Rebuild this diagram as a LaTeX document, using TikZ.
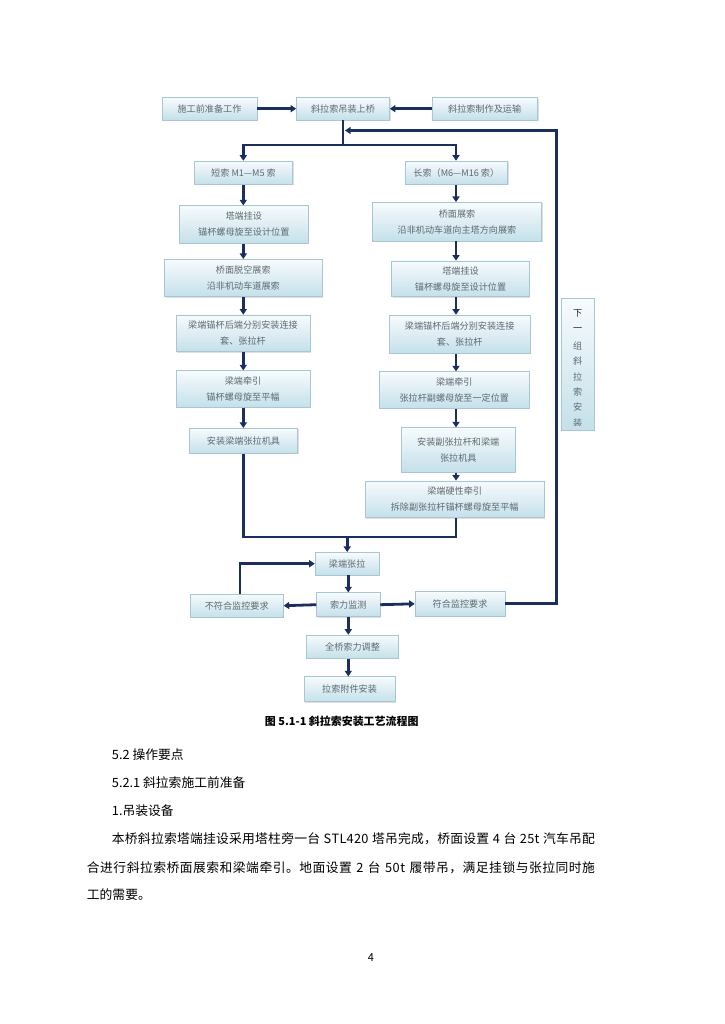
\documentclass[tikz,border=0pt]{standalone}
\usepackage{fontspec}
\setmainfont{Noto Sans CJK SC}
\usetikzlibrary{arrows.meta,shadows,calc}
\newdimen\upx
\upx=0.8218pt
\def\spreadend{}
\def\spread#1{\spreadi#1\spreadend}
\def\spreadi#1{\ifx#1\spreadend\else#1\hskip0pt plus 1pt\relax\expandafter\spreadi\fi}
\definecolor{boxtop}{HTML}{F7FBFD}
\definecolor{boxbot}{HTML}{C4E0EA}
\definecolor{boxborder}{HTML}{A9C6D3}
\definecolor{boxtext}{HTML}{5E6A72}
\definecolor{navy}{HTML}{1B2F5E}
\tikzset{
  box/.style={draw=boxborder, line width=0.5pt, top color=boxtop, bottom color=boxbot,
    text=boxtext, font=\fontsize{7.5}{13.1}\selectfont, align=center, inner sep=0pt,
    drop shadow={shadow xshift=0.9pt, shadow yshift=-0.9pt, opacity=0.25, fill=gray}},
  conn/.style={draw=navy, line width=2.3pt, line join=miter},
  arr/.style={conn, -{Triangle[length=4.6pt,width=5.8pt]}},
  body/.style={font=\fontsize{10.5}{12}\selectfont, anchor=west, inner sep=0pt},
  vchar/.style={text=boxtext, font=\fontsize{7.5}{9}\selectfont, inner sep=0pt}
}
\newcommand\bx[6]{\node[box,minimum width=#4\upx,minimum height=#5\upx] (#1) at (#2,#3) {#6};}
\begin{document}
\begin{tikzpicture}[x=0.8218pt,y=-0.8218pt]
\useasboundingbox[fill=white] (0,0) rectangle (724,1024);
% top row
\bx{prep}{209.5}{108.7}{95}{22.5}{施工前准备工作}
\bx{hoist}{343}{108.7}{93}{22.5}{斜拉索吊装上桥}
\bx{make}{484.7}{108.7}{105.5}{22.5}{斜拉索制作及运输}
\bx{short}{243.5}{172.7}{98.4}{23.3}{短索 M1—M5 索}
\bx{long}{456.3}{172.7}{102.7}{23.3}{长索（M6—M16 索）}
% left column
\bx{L1}{243.8}{224.5}{129}{37.6}{塔端挂设\\锚杯螺母旋至设计位置}
\bx{L2}{243.3}{278}{157}{37.4}{桥面脱空展索\\沿非机动车道展索}
\bx{L3}{243}{333.3}{134}{36.7}{梁端锚杯后端分别安装连接\\套、张拉杆}
\bx{L4}{243}{389}{134}{36.6}{梁端牵引\\锚杯螺母旋至平幅}
\bx{L5}{243.5}{440.8}{108.4}{25}{安装梁端张拉机具}
% right column
\bx{R1}{457}{221.7}{169.4}{38.7}{桥面展索\\沿非机动车道向主塔方向展索}
\bx{R2}{460.5}{278.8}{137.6}{35.7}{塔端挂设\\锚杯螺母旋至设计位置}
\bx{R3}{459.7}{334.2}{140.7}{38.3}{梁端锚杯后端分别安装连接\\套、张拉杆}
\bx{R4}{454.3}{390}{150}{36.6}{梁端牵引\\张拉杆副螺母旋至一定位置}
\bx{R5}{458.3}{450}{113.3}{44.6}{安装副张拉杆和梁端\\张拉机具}
\bx{R6}{454.7}{499.3}{179.3}{36.7}{梁端硬性牵引\\拆除副张拉杆锚杯螺母旋至平幅}
% next group box
\bx{next}{577.6}{364.2}{33.3}{131.7}{}
\begin{scope}
\clip ([yshift=4.5\upx]next.south west) rectangle (next.north east);
\node[vchar, text=black!85] (v1) at (577.6,313.3) {下};
\node[vchar, text=black!85] (v2) at (577.6,329.3) {一};
\foreach \c [count=\i from 3] in {组,斜,拉,索,安,装}
  \node[vchar] (v\i) at (577.6,{345.5+15.5*(\i-3)}) {\c};
\end{scope}
% bottom section
\bx{T}{347.2}{563.7}{64.3}{22.7}{梁端张拉}
\bx{M}{348.3}{604.7}{63.3}{24}{索力监测}
\bx{N}{236.7}{605.7}{93.3}{23.3}{不符合监控要求}
\bx{Y}{460}{603.8}{90}{24.3}{符合监控要求}
\bx{A}{352.5}{646.7}{91.6}{23.3}{全桥索力调整}
\bx{B}{349.5}{689.2}{91}{25}{拉索附件安装}
% coordinates
\coordinate (lx) at (243.3,0);
\coordinate (rc) at (456,0);
\coordinate (br) at (343,145);
\coordinate (fb) at (345,130.5);
\coordinate (rx) at (556.3,0);
\coordinate (mg) at (347.2,537);
\coordinate (cx) at (348.3,0);
% connectors top
\draw[arr] (prep.east) -- (hoist.west);
\draw[arr] (make.west) -- (hoist.east);
\draw[arr] (hoist.south) -- (br) -| (short.north -| lx);
\draw[arr] (br) -| (long.north -| rc);
\draw[arr] (Y.east) -| (rx |- fb) -- (fb);
% left column
\draw[arr] (short.south -| lx) -- (L1.north -| lx);
\draw[arr] (L1.south -| lx) -- (L2.north -| lx);
\draw[arr] (L2.south -| lx) -- (L3.north -| lx);
\draw[arr] (L3.south -| lx) -- (L4.north -| lx);
\draw[arr] (L4.south -| lx) -- (L5.north -| lx);
% right column
\draw[arr] (long.south -| rc) -- (R1.north -| rc);
\draw[arr] (R1.south -| rc) -- (R2.north -| rc);
\draw[arr] (R2.south -| rc) -- (R3.north -| rc);
\draw[arr] (R3.south -| rc) -- (R4.north -| rc);
\draw[arr] (R4.south -| rc) -- (R5.north -| rc);
\draw[arr] (R5.south -| rc) -- (R6.north -| rc);
% merge
\draw[conn] (L5.south -| lx) |- (rc |- mg) -- (R6.south -| rc);
\draw[arr] (mg) -- (T.north);
\draw[arr] (T.south -| cx) -- (M.north -| cx);
\draw[arr] (M.west) -- (N.east);
\draw[arr] (M.east) -- (Y.west);
\draw[arr] ([xshift=3.3\upx]N.north) |- (T.west);
\draw[arr] (M.south -| cx) -- (A.north -| cx);
\draw[arr] (A.south -| cx) -- (B.north -| cx);
% caption and body text
\node[font=\fontsize{9}{11}\selectfont\bfseries, inner sep=0pt] (cap) at (341.7,721) {图 5.1-1 斜拉索安装工艺流程图};
\node[body] (t1) at (111.7,754.3) {5.2 操作要点};
\node[body] (t2) at (111.7,782.3) {5.2.1 斜拉索施工前准备};
\node[body] (t3) at (111.7,811) {1.吊装设备};
\node[body] (t4) at (111.7,839) {\hbox to 483\upx{\spread{本桥斜拉索塔端挂设采用塔柱旁一台~STL420~塔吊完成，桥面设置~4~台~25t~汽车吊配}\unskip}};
\node[body] (t5) at (86.7,867.7) {\hbox to 508\upx{\spread{合进行斜拉索桥面展索和梁端牵引。地面设置~2~台~50t~履带吊，满足挂锁与张拉同时施}\unskip}};
\node[body] (t6) at (86.7,895) {工的需要。};
\node[font=\fontsize{9}{11}\selectfont, inner sep=0pt] (pg) at (371,958) {4};
\end{tikzpicture}
\end{document}
